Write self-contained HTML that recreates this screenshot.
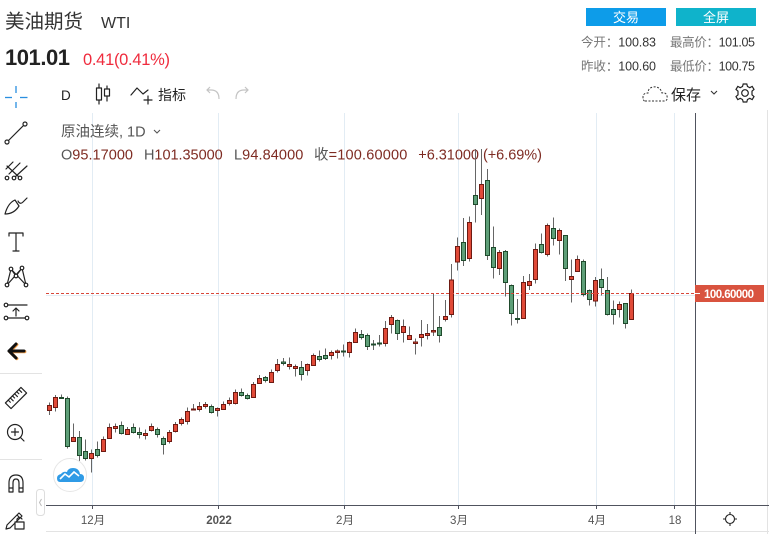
<!DOCTYPE html>
<html><head><meta charset="utf-8">
<style>
html,body{margin:0;padding:0;background:#fff;}
body{width:769px;height:534px;overflow:hidden;}
svg{display:block;}
text{font-family:"Liberation Sans","Noto Sans CJK SC",sans-serif;}
.r{fill:#e04a38;stroke:#6e1a12;stroke-width:1;}
.g{fill:#5e9f78;stroke:#1f4a2c;stroke-width:1;}
.ic{fill:none;stroke:#222;stroke-width:1.2;stroke-linecap:round;stroke-linejoin:round;}
</style></head>
<body>
<svg width="769" height="534" viewBox="0 0 769 534" xmlns="http://www.w3.org/2000/svg">
<!-- header -->
<text x="5" y="28" font-size="19.5" fill="#333">美油期货</text>
<text x="101" y="28" font-size="16" fill="#333">WTI</text>
<text x="5" y="65" font-size="22" font-weight="bold" fill="#222" textLength="65">101.01</text>
<text x="83" y="65" font-size="16.5" fill="#ef2b3d" textLength="87">0.41(0.41%)</text>

<rect x="586" y="8" width="80" height="18" fill="#0d9ce9"/>
<text x="626" y="22" font-size="13" fill="#fff" text-anchor="middle">交易</text>
<rect x="676" y="8" width="80" height="18" fill="#0fb3cb"/>
<text x="716" y="22" font-size="13" fill="#fff" text-anchor="middle">全屏</text>

<text x="581" y="46.5" font-size="12.5" textLength="75"><tspan fill="#777">今开：</tspan><tspan fill="#333">100.83</tspan></text>
<text x="670" y="46.5" font-size="12.5" textLength="85"><tspan fill="#777">最高价：</tspan><tspan fill="#333">101.05</tspan></text>
<text x="581" y="70.5" font-size="12.5" textLength="75"><tspan fill="#777">昨收：</tspan><tspan fill="#333">100.60</tspan></text>
<text x="670" y="70.5" font-size="12.5" textLength="85"><tspan fill="#777">最低价：</tspan><tspan fill="#333">100.75</tspan></text>

<!-- top toolbar -->
<g stroke="#2a8fe0" stroke-width="1.3">
<line x1="5" y1="97.5" x2="12" y2="97.5"/><line x1="20" y1="97.5" x2="27.5" y2="97.5"/>
<line x1="16" y1="86" x2="16" y2="93"/><line x1="16" y1="102" x2="16" y2="108"/>
</g>
<text x="61" y="100" font-size="13.5" fill="#222">D</text>
<g class="ic">
<line x1="99" y1="84" x2="99" y2="104"/><rect x="96.5" y="88" width="5" height="12" fill="#fff"/>
<line x1="107" y1="86" x2="107" y2="101"/><rect x="104.5" y="89" width="5" height="7" fill="#fff"/>
<polyline points="131,95 137,88 143,94 148,90"/>
<line x1="148" y1="96" x2="148" y2="104"/><line x1="144" y1="100" x2="152" y2="100"/>
</g>
<text x="158" y="100" font-size="14" fill="#222">指标</text>
<g fill="none" stroke="#c4c4c4" stroke-width="1.2">
<path d="M219,99 Q219,90 211,90 L207,90 M210,87 L207,90 L210,93"/>
<path d="M236,99 Q236,90 244,90 L248,90 M245,87 L248,90 L245,93"/>
</g>
<path d="M645,101 L664,101 Q668,101 667,96 Q666,92 662,93 Q660,86 653,87 Q648,88 648,93 Q643,93 643,97 Q643,101 645,101Z" fill="none" stroke="#333" stroke-width="1" stroke-dasharray="2,1.5"/>
<text x="671" y="100" font-size="15" fill="#222">保存</text>
<polyline points="711,91 714,94 717,91" fill="none" stroke="#333" stroke-width="1.1"/>
<g transform="translate(745,93)" fill="none" stroke="#222" stroke-width="1.2">
<circle r="3.3"/>
<path d="M-1.8,-9 L1.8,-9 L2.5,-6.5 L4.8,-5.3 L7.2,-6.6 L9,-3.6 L7,-1.8 L7,1.8 L9,3.6 L7.2,6.6 L4.8,5.3 L2.5,6.5 L1.8,9 L-1.8,9 L-2.5,6.5 L-4.8,5.3 L-7.2,6.6 L-9,3.6 L-7,1.8 L-7,-1.8 L-9,-3.6 L-7.2,-6.6 L-4.8,-5.3 L-2.5,-6.5Z"/>
</g>

<!-- left toolbar -->
<g class="ic">
<line x1="8" y1="141" x2="24" y2="125"/><circle cx="7" cy="142" r="2" fill="#fff"/><circle cx="25" cy="124" r="2" fill="#fff"/>
<path d="M6,169 L13,162 M9,174 L20,163 M15,177 L27,166 M7,166 L19,177"/><circle cx="7" cy="178" r="1.8" fill="#fff"/><circle cx="14" cy="178" r="1.8" fill="#fff"/><circle cx="20" cy="178" r="1.8" fill="#fff"/>
<path d="M5,214 Q8,203 15,200 L19,206 Q14,214 5,214Z M18,201 Q20,205 23,202 L27,198"/>
<path d="M9,236 L9,233 L23,233 L23,236 M16,233 L16,251 M13,251 L19,251"/>
<path d="M7,285 L11,269 L16,276 L22,268 L26,285 M7,285 L22,268 M11,269 L26,285"/><circle cx="7" cy="285" r="1.8" fill="#fff"/><circle cx="26" cy="285" r="1.8" fill="#fff"/><circle cx="11" cy="269" r="1.8" fill="#fff"/><circle cx="22" cy="268" r="1.8" fill="#fff"/><circle cx="16" cy="276" r="1.8" fill="#fff"/>
<path d="M8,305 L27,305 M8,318 L27,318 M16,309 L16,316 M13,311 L16,308 L19,311"/><circle cx="6" cy="305" r="1.8" fill="#fff"/><circle cx="6" cy="318" r="1.8" fill="#fff"/><circle cx="27" cy="318" r="1.8" fill="#fff"/>
</g>
<path d="M9,351 L16,344 M9,351 L16,358 M9,351 L24,351" fill="none" stroke="#f5a04a" stroke-width="3.2" stroke-linecap="round" transform="translate(0.8,0.6)"/>
<path d="M9,351 L16,344 M9,351 L16,358 M9,351 L24,351" fill="none" stroke="#111" stroke-width="3" stroke-linecap="round"/>
<line x1="0" y1="373.5" x2="42" y2="373.5" stroke="#e3e3e3"/>
<g class="ic">
<g transform="rotate(-45 16 398)"><rect x="5" y="394" width="22" height="8"/><path d="M9,394 v3 M12,394 v4 M15,394 v3 M18,394 v4 M21,394 v3 M24,394 v4"/></g>
<circle cx="15" cy="432" r="7.5"/><path d="M15,428.5 v7 M11.5,432 h7 M20.5,437.5 L24,441"/>
</g>
<line x1="0" y1="459.5" x2="42" y2="459.5" stroke="#e3e3e3"/>
<g class="ic">
<path d="M9,492 L9,483 Q9,475 16,475 Q23,475 23,483 L23,492 L19,492 L19,483 Q19,479 16,479 Q13,479 13,483 L13,492 Z M9,488 h4 M19,488 h4"/>
<path d="M7,525 L6,529 L10,528 L22,516 L19,513 Z M17,515 L20,518"/>
<rect x="15" y="522" width="9" height="7" fill="#fff"/><path d="M17,522 v-3 q2.5,-3 5,0"/>
</g>

<!-- chart grid -->
<g stroke="#e2ecf4" stroke-width="1">
<line x1="92.5" y1="113" x2="92.5" y2="505"/>
<line x1="218.5" y1="113" x2="218.5" y2="505"/>
<line x1="344.5" y1="113" x2="344.5" y2="505"/>
<line x1="458.5" y1="113" x2="458.5" y2="505"/>
<line x1="596.5" y1="113" x2="596.5" y2="505"/>
<line x1="674.5" y1="113" x2="674.5" y2="505"/>
<line x1="46" y1="295.5" x2="695" y2="295.5"/>
</g>
<line x1="767.5" y1="110" x2="767.5" y2="534" stroke="#e3e3e3"/>
<line x1="46" y1="531.5" x2="769" y2="531.5" stroke="#e3e3e3"/>

<!-- legend -->
<text x="61" y="136.5" font-size="14.5" fill="#555">原油连续, 1D</text>
<polyline points="154,130 157,133 160,130" fill="none" stroke="#555" stroke-width="1.1"/>
<g font-size="14.5">
<text x="61" y="159.5" textLength="72"><tspan fill="#555">O</tspan><tspan fill="#7e2b22">95.17000</tspan></text>
<text x="144" y="159.5" textLength="78.7"><tspan fill="#555">H</tspan><tspan fill="#7e2b22">101.35000</tspan></text>
<text x="234" y="159.5" textLength="69.3"><tspan fill="#555">L</tspan><tspan fill="#7e2b22">94.84000</tspan></text>
<text x="314" y="159.5" textLength="93.3"><tspan fill="#555">收</tspan><tspan fill="#7e2b22">=100.60000</tspan></text>
<text x="418.3" y="159.5" textLength="123.7" fill="#7e2b22">+6.31000 (+6.69%)</text>
</g>

<!-- candles -->
<g stroke="#666" stroke-width="1">
<line x1="49.5" y1="402.5" x2="49.5" y2="415"/><line x1="55.5" y1="395" x2="55.5" y2="411.5"/><line x1="61.5" y1="394.5" x2="61.5" y2="399"/><line x1="67.5" y1="396.5" x2="67.5" y2="448.5"/><line x1="73.5" y1="423.5" x2="73.5" y2="441.5"/><line x1="79.5" y1="431" x2="79.5" y2="461"/><line x1="85.5" y1="439.5" x2="85.5" y2="460.5"/><line x1="91.5" y1="449.5" x2="91.5" y2="472.5"/><line x1="97.5" y1="441.5" x2="97.5" y2="457.5"/><line x1="103.5" y1="436.5" x2="103.5" y2="451.5"/>
<line x1="109.5" y1="423.5" x2="109.5" y2="438.5"/><line x1="115.5" y1="423.5" x2="115.5" y2="432.5"/><line x1="121.5" y1="421.5" x2="121.5" y2="434.5"/><line x1="127.5" y1="427" x2="127.5" y2="434.5"/><line x1="133.5" y1="423.5" x2="133.5" y2="433.5"/><line x1="139.5" y1="427.5" x2="139.5" y2="438.5"/><line x1="145.5" y1="429.5" x2="145.5" y2="439.5"/><line x1="151.5" y1="423.5" x2="151.5" y2="431.5"/><line x1="157.5" y1="427.5" x2="157.5" y2="437.5"/><line x1="163.5" y1="436.5" x2="163.5" y2="454.5"/>
<line x1="169.5" y1="430" x2="169.5" y2="443.5"/><line x1="175.5" y1="422" x2="175.5" y2="432.5"/><line x1="181.5" y1="417.5" x2="181.5" y2="425.5"/><line x1="187.5" y1="407.5" x2="187.5" y2="424.5"/><line x1="193.5" y1="404" x2="193.5" y2="410"/><line x1="199.5" y1="402" x2="199.5" y2="411.5"/><line x1="205.5" y1="402" x2="205.5" y2="408.5"/><line x1="211.5" y1="404.5" x2="211.5" y2="413.5"/><line x1="217.5" y1="407.5" x2="217.5" y2="416.5"/><line x1="223.5" y1="401.5" x2="223.5" y2="410"/>
<line x1="229.5" y1="397.5" x2="229.5" y2="405.5"/><line x1="235.5" y1="389.5" x2="235.5" y2="404.5"/><line x1="241.5" y1="388.5" x2="241.5" y2="396.5"/><line x1="247.5" y1="393.5" x2="247.5" y2="399.5"/><line x1="253.5" y1="382" x2="253.5" y2="397.5"/><line x1="259.5" y1="375" x2="259.5" y2="384"/><line x1="265.5" y1="376" x2="265.5" y2="382.5"/><line x1="271.5" y1="369.5" x2="271.5" y2="382.5"/><line x1="277.5" y1="359" x2="277.5" y2="372.5"/><line x1="283.5" y1="358" x2="283.5" y2="365.5"/>
<line x1="289.5" y1="357.5" x2="289.5" y2="369.5"/><line x1="295.5" y1="364.5" x2="295.5" y2="376.5"/><line x1="301.5" y1="361" x2="301.5" y2="380.5"/><line x1="307.5" y1="363.5" x2="307.5" y2="375.5"/><line x1="313.5" y1="353.5" x2="313.5" y2="365.5"/><line x1="319.5" y1="350.5" x2="319.5" y2="361.5"/><line x1="325.5" y1="348.5" x2="325.5" y2="360"/><line x1="331.5" y1="350.5" x2="331.5" y2="359.5"/><line x1="337.5" y1="349.5" x2="337.5" y2="358.5"/><line x1="343.5" y1="344.5" x2="343.5" y2="356.5"/>
<line x1="349.5" y1="341.5" x2="349.5" y2="357.5"/><line x1="355.5" y1="328.5" x2="355.5" y2="342.5"/><line x1="361.5" y1="330" x2="361.5" y2="339.5"/><line x1="367.5" y1="333.5" x2="367.5" y2="350"/><line x1="373.5" y1="340" x2="373.5" y2="350"/><line x1="379.5" y1="335" x2="379.5" y2="346.5"/><line x1="385.5" y1="321" x2="385.5" y2="346.5"/><line x1="391.5" y1="315" x2="391.5" y2="333.5"/><line x1="397.5" y1="319.5" x2="397.5" y2="340"/><line x1="403.5" y1="319.5" x2="403.5" y2="342.5"/>
<line x1="409.5" y1="326.5" x2="409.5" y2="340"/><line x1="415.5" y1="338.5" x2="415.5" y2="354.5"/><line x1="421.5" y1="320" x2="421.5" y2="346.5"/><line x1="427.5" y1="324" x2="427.5" y2="339.5"/><line x1="433.5" y1="293.5" x2="433.5" y2="336"/><line x1="439.5" y1="316" x2="439.5" y2="342.5"/><line x1="445.5" y1="300" x2="445.5" y2="321.5"/><line x1="451.5" y1="264" x2="451.5" y2="317.5"/><line x1="457.5" y1="237.5" x2="457.5" y2="270.5"/><line x1="463.5" y1="218" x2="463.5" y2="266"/>
<line x1="469.5" y1="216.5" x2="469.5" y2="261.5"/><line x1="475.5" y1="149" x2="475.5" y2="222.5"/><line x1="481.5" y1="149" x2="481.5" y2="215"/><line x1="487.5" y1="169" x2="487.5" y2="260"/><line x1="493.5" y1="226.5" x2="493.5" y2="278.5"/><line x1="499.5" y1="250" x2="499.5" y2="275"/><line x1="505.5" y1="250" x2="505.5" y2="296.5"/><line x1="511.5" y1="284.5" x2="511.5" y2="325.5"/><line x1="517.5" y1="299" x2="517.5" y2="323.5"/><line x1="523.5" y1="276" x2="523.5" y2="318.5"/>
<line x1="529.5" y1="274" x2="529.5" y2="290"/><line x1="535.5" y1="243.5" x2="535.5" y2="283.5"/><line x1="541.5" y1="233.5" x2="541.5" y2="253.5"/><line x1="547.5" y1="223.5" x2="547.5" y2="256.5"/><line x1="553.5" y1="217.5" x2="553.5" y2="245.5"/><line x1="559.5" y1="228.5" x2="559.5" y2="254.5"/><line x1="565.5" y1="235.5" x2="565.5" y2="281"/><line x1="571.5" y1="259.5" x2="571.5" y2="302.5"/><line x1="577.5" y1="255.5" x2="577.5" y2="272"/><line x1="583.5" y1="259.5" x2="583.5" y2="296.5"/>
<line x1="589.5" y1="289.5" x2="589.5" y2="305.5"/><line x1="595.5" y1="277" x2="595.5" y2="306.5"/><line x1="601.5" y1="268.5" x2="601.5" y2="295.5"/><line x1="607.5" y1="277" x2="607.5" y2="315.5"/><line x1="613.5" y1="300.5" x2="613.5" y2="324.5"/><line x1="619.5" y1="301.5" x2="619.5" y2="317.5"/><line x1="625.5" y1="303.5" x2="625.5" y2="328.5"/><line x1="631.5" y1="289.5" x2="631.5" y2="319.5"/>
</g>
<g>
<rect class="r" x="47.5" y="405.5" width="4" height="5"/><rect class="r" x="53.5" y="397.5" width="4" height="10"/><rect class="g" x="59.5" y="397.5" width="4" height="1"/><rect class="g" x="65.5" y="398.5" width="4" height="48"/><rect class="r" x="71.5" y="437.5" width="4" height="4"/><rect class="g" x="77.5" y="437.5" width="4" height="18"/><rect class="g" x="83.5" y="451.5" width="4" height="7"/><rect class="r" x="89.5" y="453.5" width="4" height="5"/><rect class="g" x="95.5" y="449.5" width="4" height="6"/><rect class="r" x="101.5" y="439.5" width="4" height="12"/>
<rect class="r" x="107.5" y="427.5" width="4" height="11"/><rect class="r" x="113.5" y="426.5" width="4" height="2"/><rect class="g" x="119.5" y="425.5" width="4" height="8"/><rect class="r" x="125.5" y="429.5" width="4" height="5"/><rect class="g" x="131.5" y="427.5" width="4" height="5"/><rect class="g" x="137.5" y="432.5" width="4" height="2"/><rect class="r" x="143.5" y="433.5" width="4" height="2"/><rect class="r" x="149.5" y="426.5" width="4" height="4"/><rect class="g" x="155.5" y="429.5" width="4" height="5"/><rect class="g" x="161.5" y="438.5" width="4" height="6"/>
<rect class="r" x="167.5" y="432.5" width="4" height="9"/><rect class="r" x="173.5" y="424.5" width="4" height="7"/><rect class="r" x="179.5" y="419.5" width="4" height="4"/><rect class="r" x="185.5" y="411.5" width="4" height="10"/><rect class="r" x="191.5" y="409" width="4" height="1"/><rect class="r" x="197.5" y="406.5" width="4" height="3"/><rect class="r" x="203.5" y="404.5" width="4" height="2"/><rect class="g" x="209.5" y="406.5" width="4" height="6"/><rect class="r" x="215.5" y="408.5" width="4" height="2"/><rect class="r" x="221.5" y="404.5" width="4" height="5"/>
<rect class="r" x="227.5" y="400.5" width="4" height="3"/><rect class="r" x="233.5" y="392.5" width="4" height="11"/><rect class="g" x="239.5" y="392.5" width="4" height="3"/><rect class="g" x="245.5" y="395.5" width="4" height="3"/><rect class="r" x="251.5" y="384.5" width="4" height="13"/><rect class="r" x="257.5" y="378.5" width="4" height="5"/><rect class="g" x="263.5" y="377.5" width="4" height="3"/><rect class="r" x="269.5" y="372.5" width="4" height="10"/><rect class="r" x="275.5" y="364.5" width="4" height="6"/><rect class="g" x="281.5" y="362" width="4" height="1.5"/>
<rect class="r" x="287.5" y="364.5" width="4" height="2"/><rect class="r" x="293.5" y="366.5" width="4" height="2"/><rect class="g" x="299.5" y="367.5" width="4" height="7"/><rect class="r" x="305.5" y="364.5" width="4" height="6"/><rect class="r" x="311.5" y="355.5" width="4" height="10"/><rect class="g" x="317.5" y="356.5" width="4" height="3"/><rect class="g" x="323.5" y="355.5" width="4" height="3"/><rect class="r" x="329.5" y="352.5" width="4" height="3"/><rect class="r" x="335.5" y="351" width="4" height="1.5"/><rect class="g" x="341.5" y="351" width="4" height="1"/>
<rect class="r" x="347.5" y="342.5" width="4" height="10"/><rect class="r" x="353.5" y="332.5" width="4" height="10"/><rect class="g" x="359.5" y="334.5" width="4" height="3"/><rect class="g" x="365.5" y="335.5" width="4" height="11"/><rect class="g" x="371.5" y="344" width="4" height="1"/><rect class="g" x="377.5" y="343" width="4" height="1"/><rect class="r" x="383.5" y="328.5" width="4" height="15"/><rect class="r" x="389.5" y="317.5" width="4" height="7"/><rect class="g" x="395.5" y="320.5" width="4" height="13"/><rect class="r" x="401.5" y="326.5" width="4" height="6"/>
<rect class="r" x="407.5" y="335.5" width="4" height="4"/><rect class="r" x="413.5" y="342" width="4" height="1.5"/><rect class="r" x="419.5" y="334.5" width="4" height="3"/><rect class="r" x="425.5" y="333.5" width="4" height="2"/><rect class="r" x="431.5" y="330.5" width="4" height="1.5"/><rect class="g" x="437.5" y="327.5" width="4" height="8"/><rect class="r" x="443.5" y="316.5" width="4" height="3"/><rect class="r" x="449.5" y="280" width="4" height="34.5"/><rect class="r" x="455.5" y="246.5" width="4" height="15.5"/><rect class="g" x="461.5" y="242.5" width="4" height="18"/>
<rect class="r" x="467.5" y="222.5" width="4" height="36"/><rect class="g" x="473.5" y="195.5" width="4" height="9"/><rect class="r" x="479.5" y="184.5" width="4" height="14"/><rect class="g" x="485.5" y="180.5" width="4" height="75"/><rect class="g" x="491.5" y="247.5" width="4" height="20"/><rect class="r" x="497.5" y="252.5" width="4" height="16"/><rect class="g" x="503.5" y="251.5" width="4" height="31"/><rect class="g" x="509.5" y="285.5" width="4" height="28"/><rect class="g" x="515.5" y="318.5" width="4" height="1"/><rect class="r" x="521.5" y="282.5" width="4" height="36"/>
<rect class="r" x="527.5" y="281.5" width="4" height="4"/><rect class="r" x="533.5" y="249.5" width="4" height="30"/><rect class="g" x="539.5" y="244.5" width="4" height="8"/><rect class="r" x="545.5" y="225.5" width="4" height="29"/><rect class="g" x="551.5" y="228.5" width="4" height="10"/><rect class="r" x="557.5" y="230.5" width="4" height="10"/><rect class="g" x="563.5" y="235.5" width="4" height="33"/><rect class="r" x="569.5" y="276.5" width="4" height="3"/><rect class="r" x="575.5" y="259.5" width="4" height="12"/><rect class="g" x="581.5" y="261.5" width="4" height="33"/>
<rect class="g" x="587.5" y="290.5" width="4" height="9"/><rect class="r" x="593.5" y="280.5" width="4" height="20.5"/><rect class="g" x="599.5" y="279.5" width="4" height="8"/><rect class="g" x="605.5" y="290.5" width="4" height="24"/><rect class="g" x="611.5" y="309.5" width="4" height="5"/><rect class="r" x="617.5" y="304.5" width="4" height="5"/><rect class="g" x="623.5" y="303.5" width="4" height="20"/><rect class="r" x="629.5" y="293.5" width="4" height="26"/>
</g>

<!-- last price line -->
<line x1="46" y1="293.5" x2="695" y2="293.5" stroke="#d8473a" stroke-width="1" stroke-dasharray="3,2"/>

<!-- axes -->
<line x1="695.5" y1="113" x2="695.5" y2="534" stroke="#50535e" stroke-width="1"/>
<line x1="46" y1="505.5" x2="769" y2="505.5" stroke="#50535e" stroke-width="1"/>
<g stroke="#50535e" stroke-width="1">
<line x1="92.5" y1="505" x2="92.5" y2="509"/><line x1="218.5" y1="505" x2="218.5" y2="509"/><line x1="344.5" y1="505" x2="344.5" y2="509"/><line x1="458.5" y1="505" x2="458.5" y2="509"/><line x1="596.5" y1="505" x2="596.5" y2="509"/><line x1="674.5" y1="505" x2="674.5" y2="509"/>
</g>
<g font-size="11.5" fill="#555" text-anchor="middle">
<text x="93" y="524">12月</text>
<text x="219" y="524" font-weight="bold">2022</text>
<text x="345" y="524">2月</text>
<text x="459" y="524">3月</text>
<text x="597" y="524">4月</text>
<text x="675" y="524">18</text>
</g>
<g transform="translate(730,519)" fill="none" stroke="#222" stroke-width="1.1">
<circle r="4.5"/>
<path d="M0,-7 v2 M0,5 v2 M-7,0 h2 M5,0 h2"/>
</g>

<!-- price label -->
<rect x="695" y="285" width="69" height="17" fill="#d9533f"/>
<line x1="695" y1="293.5" x2="700" y2="293.5" stroke="#fff" stroke-width="1"/>
<text x="704" y="297.8" font-size="11.5" font-weight="bold" fill="#fff" textLength="50">100.60000</text>

<!-- floating badge & collapse tab -->
<circle cx="70" cy="475" r="16.5" fill="#fff" stroke="#e6e6e6" stroke-width="1"/>
<path d="M60,482 L80,482 Q84,482 84,478 Q84,474 80,474 Q79,468 73,468 Q68,468 67,472 Q63,471 61,474 Q57,475 57,478 Q57,482 60,482Z" fill="#2f9be6"/>
<polyline points="60,479 65,474 69,477 74,472 79,476" fill="none" stroke="#fff" stroke-width="1.6"/>
<rect x="36.5" y="489.5" width="8" height="26" rx="3" fill="#fff" stroke="#ddd"/>
<polyline points="41.5,499 39.5,502.5 41.5,506" fill="none" stroke="#bbb" stroke-width="1"/>
</svg>
</body></html>
